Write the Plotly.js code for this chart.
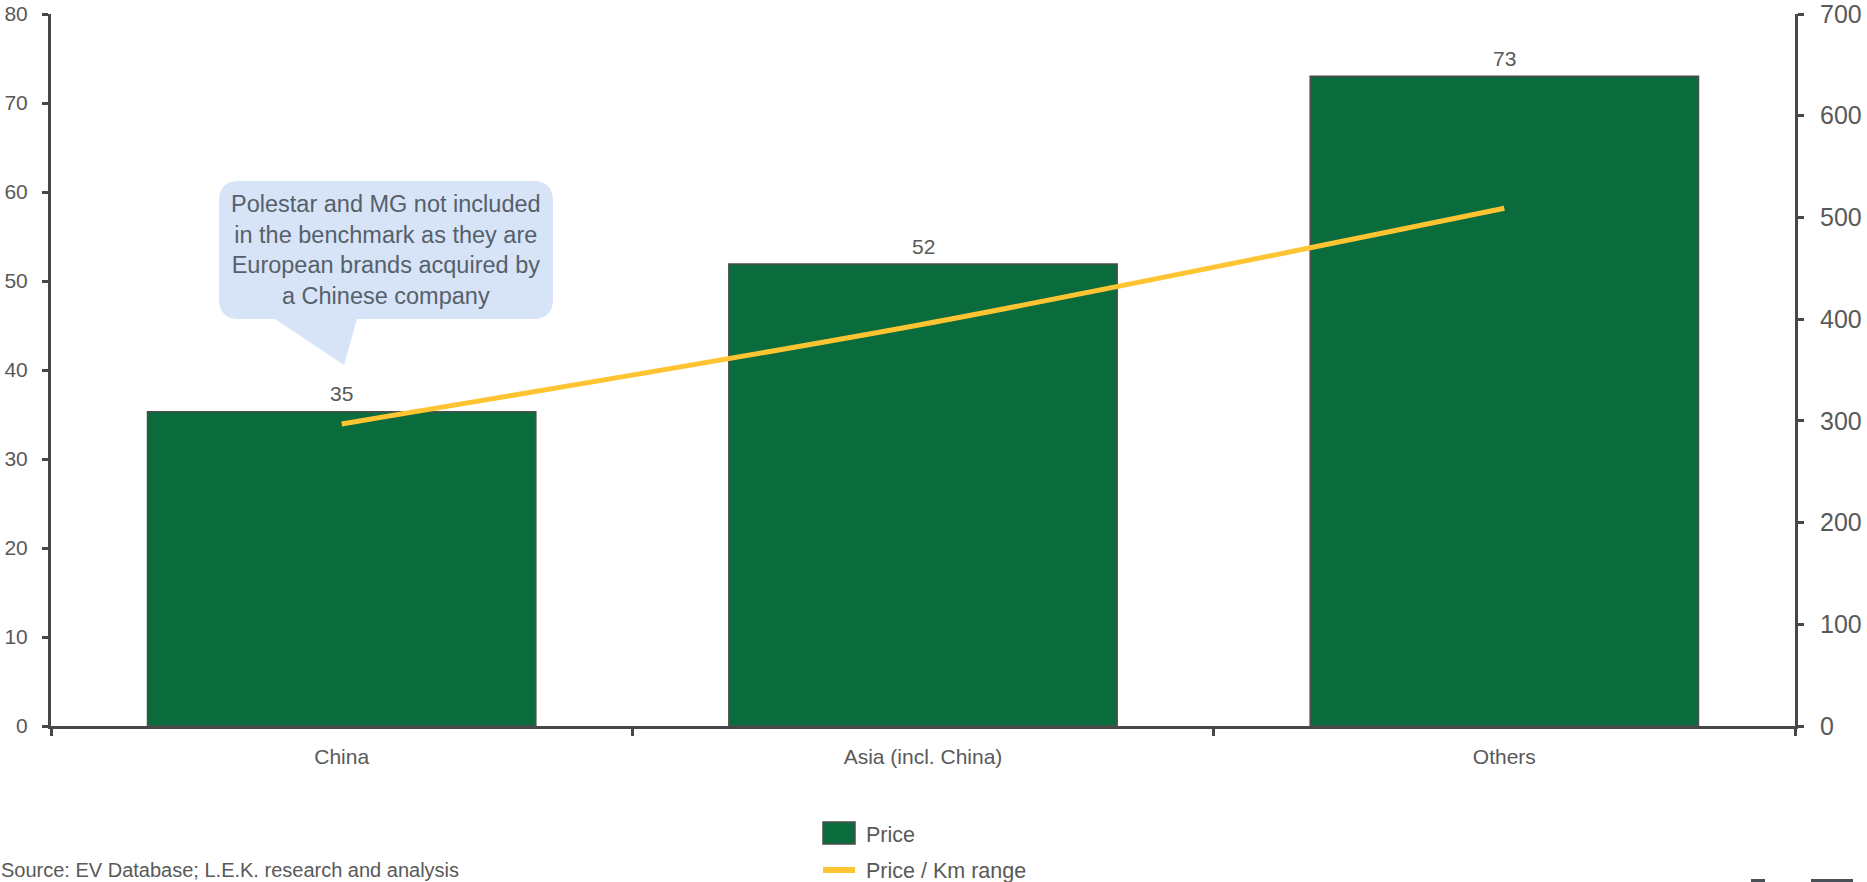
<!DOCTYPE html>
<html>
<head>
<meta charset="utf-8">
<script src="https://cdn.plot.ly/plotly-3.0.1.min.js"></script>
<style>
  html, body { margin: 0; padding: 0; background: #ffffff; }
  #chart { width: 1867px; height: 882px; }
</style>
</head>
<body>
<div id="chart"></div>
<script>
// ---- data ----
const categories = ["China", "Asia (incl. China)", "Others"];
const priceValues = [35.3, 51.9, 73.0];
const pricePerKmValues = [297, 395, 509];
const seriesNames = ["Price", "Price / Km range"];
const leftTicks = [0, 10, 20, 30, 40, 50, 60, 70, 80];
const rightTicks = [0, 100, 200, 300, 400, 500, 600, 700];
const calloutText = "Polestar and MG not included<br>in the benchmark as they are<br>European brands acquired by<br>a Chinese company";
const sourceText = "Source: EV Database; L.E.K. research and analysis";

// ---- layout helpers (pixel -> paper) ----
const W = 1867, H = 882;
const M = { l: 51, r: 72, t: 14, b: 156 };
const PW = W - M.l - M.r, PH = H - M.t - M.b;
const px = x => (x - M.l) / PW;
const py = y => (H - M.b - y) / PH;

const FONT = "Liberation Sans, Arial, Helvetica, sans-serif";
const TXT = "#595959";
const AXC = "#474747";
const GREEN = "#0A6B3C";
const YELLOW = "#FFC431";

// callout bubble path (rounded rect + tail)
function bubblePath(x0, y0, x1, y1, r, tail) {
  const p = [];
  p.push(`M${px(x0 + r)},${py(y0)}`);
  p.push(`L${px(x1 - r)},${py(y0)}`);
  p.push(`Q${px(x1)},${py(y0)} ${px(x1)},${py(y0 + r)}`);
  p.push(`L${px(x1)},${py(y1 - r)}`);
  p.push(`Q${px(x1)},${py(y1)} ${px(x1 - r)},${py(y1)}`);
  p.push(`L${px(tail.bx1)},${py(y1)}`);
  p.push(`L${px(tail.tx)},${py(tail.ty)}`);
  p.push(`L${px(tail.bx0)},${py(y1)}`);
  p.push(`L${px(x0 + r)},${py(y1)}`);
  p.push(`Q${px(x0)},${py(y1)} ${px(x0)},${py(y1 - r)}`);
  p.push(`L${px(x0)},${py(y0 + r)}`);
  p.push(`Q${px(x0)},${py(y0)} ${px(x0 + r)},${py(y0)}`);
  p.push("Z");
  return p.join(" ");
}

const traces = [
  {
    type: "bar",
    name: seriesNames[0],
    x: categories,
    y: priceValues,
    yaxis: "y",
    marker: { color: GREEN, line: { color: "#4d4d4d", width: 1.5 } },
    hoverinfo: "x+y",
    showlegend: false
  },
  {
    type: "scatter",
    mode: "lines",
    name: seriesNames[1],
    x: categories,
    y: pricePerKmValues,
    yaxis: "y2",
    line: { color: YELLOW, width: 5, shape: "spline", smoothing: 0.8 },
    showlegend: false
  }
];

// value labels above bars, positioned by the axes
const valueLabels = categories.map((c, i) => ({
  xref: "x", yref: "y",
  x: c, y: priceValues[i],
  xanchor: "center", yanchor: "middle",
  yshift: 18,
  text: String(Math.round(priceValues[i])),
  showarrow: false,
  font: { family: FONT, size: 21, color: TXT }
}));

const layout = {
  width: W,
  height: H,
  margin: M,
  paper_bgcolor: "#ffffff",
  plot_bgcolor: "#ffffff",
  font: { family: FONT, color: TXT },
  showlegend: false,
  bargap: 0.332,
  xaxis: {
    type: "category",
    range: [-0.5, 2.5],
    tickson: "boundaries",
    ticks: "outside",
    ticklen: 7,
    tickwidth: 3,
    tickcolor: AXC,
    showline: true,
    linewidth: 3,
    linecolor: AXC,
    showgrid: false,
    zeroline: false,
    tickfont: { family: FONT, size: 21, color: TXT },
    ticklabelstandoff: 10,
    ticklabeloverflow: "allow",
    fixedrange: true
  },
  yaxis: {
    range: [0, 80],
    tickvals: leftTicks,
    ticks: "outside",
    ticklen: 6,
    tickwidth: 3,
    tickcolor: AXC,
    showline: true,
    linewidth: 3,
    linecolor: AXC,
    showgrid: false,
    zeroline: false,
    tickfont: { family: FONT, size: 21, color: TXT },
    ticklabelstandoff: 10,
    ticklabeloverflow: "allow"
  },
  yaxis2: {
    overlaying: "y",
    side: "right",
    range: [0, 700],
    tickvals: rightTicks,
    ticks: "outside",
    ticklen: 6,
    tickwidth: 3,
    tickcolor: AXC,
    showline: true,
    linewidth: 3,
    linecolor: AXC,
    showgrid: false,
    zeroline: false,
    tickfont: { family: FONT, size: 25, color: TXT },
    ticklabelstandoff: 11,
    ticklabeloverflow: "allow"
  },
  shapes: [
    {
      type: "path",
      xref: "paper", yref: "paper",
      path: bubblePath(219, 181, 553, 319, 20, { bx0: 275, bx1: 357, tx: 344, ty: 365 }),
      fillcolor: "#D7E4F8",
      line: { width: 0 },
      layer: "above"
    },
    // legend symbols
    {
      type: "rect", xref: "paper", yref: "paper",
      x0: px(823), x1: px(855), y0: py(844), y1: py(822),
      fillcolor: GREEN, line: { color: "#4d4d4d", width: 1.5 }
    },
    {
      type: "line", xref: "paper", yref: "paper",
      x0: px(823), x1: px(855), y0: py(870), y1: py(870),
      line: { color: YELLOW, width: 6 }
    },
    // bottom-right page marks
    {
      type: "rect", xref: "paper", yref: "paper",
      x0: px(1751), x1: px(1765), y0: py(882), y1: py(879),
      fillcolor: "#4a5058", line: { width: 0 }
    },
    {
      type: "rect", xref: "paper", yref: "paper",
      x0: px(1811), x1: px(1853), y0: py(882), y1: py(879),
      fillcolor: "#4a5058", line: { width: 0 }
    }
  ],
  annotations: valueLabels.concat([
    {
      xref: "paper", yref: "paper",
      x: px(386), y: py(250),
      xanchor: "center", yanchor: "middle",
      text: calloutText,
      showarrow: false,
      align: "center",
      font: { family: FONT, size: 23.5, color: "#56606a" }
    },
    {
      xref: "paper", yref: "paper",
      x: px(864), y: py(835),
      xanchor: "left", yanchor: "middle",
      text: seriesNames[0],
      showarrow: false,
      font: { family: FONT, size: 21.5, color: TXT }
    },
    {
      xref: "paper", yref: "paper",
      x: px(864), y: py(871),
      xanchor: "left", yanchor: "middle",
      text: seriesNames[1],
      showarrow: false,
      font: { family: FONT, size: 21.5, color: TXT }
    },
    {
      xref: "paper", yref: "paper",
      x: px(-1), y: py(870),
      xanchor: "left", yanchor: "middle",
      text: sourceText,
      showarrow: false,
      font: { family: FONT, size: 20, color: TXT }
    }
  ])
};

Plotly.newPlot("chart", traces, layout, { displayModeBar: false, staticPlot: true });
</script>
</body>
</html>
